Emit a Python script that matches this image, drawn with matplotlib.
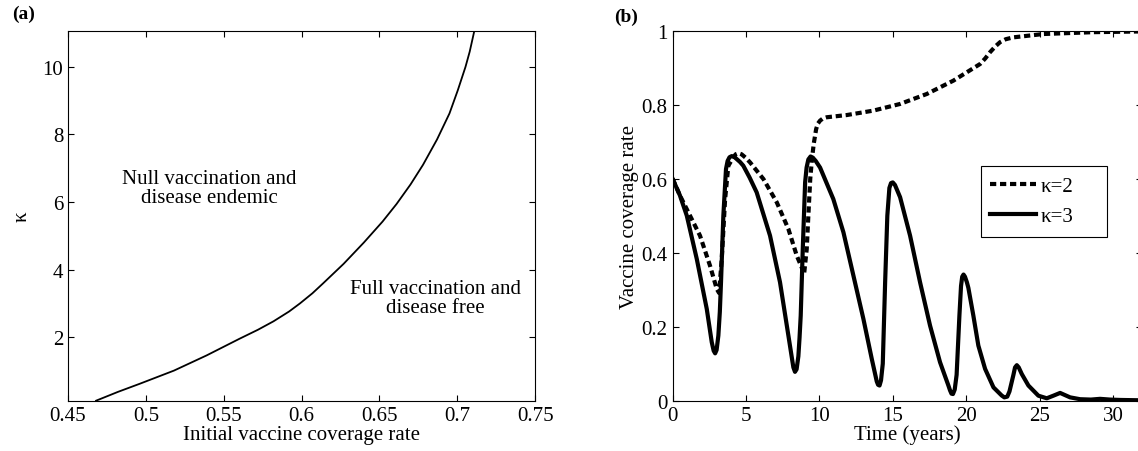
import matplotlib.pyplot as plt
import matplotlib.ticker as mticker
from matplotlib.patches import Rectangle

# ---- panel (a): threshold curve ----
coverage = [0.468, 0.482, 0.496, 0.518, 0.539, 0.560, 0.572, 0.582, 0.592,
            0.599, 0.607, 0.614, 0.627, 0.640, 0.652, 0.661, 0.670, 0.678,
            0.687, 0.695, 0.7003, 0.7053, 0.708, 0.711]
kappa_curve = [0.12, 0.38, 0.62, 1.01, 1.46, 1.95, 2.22, 2.47, 2.76,
               3.00, 3.30, 3.60, 4.17, 4.80, 5.42, 5.94, 6.52, 7.10,
               7.85, 8.62, 9.30, 10.0, 10.45, 11.07]
a_xticks = [0.45, 0.5, 0.55, 0.6, 0.65, 0.7, 0.75]
a_xticklabels = ['0.45', '0.5', '0.55', '0.6', '0.65', '0.7', '0.75']
a_yticks = [2, 4, 6, 8, 10]

# ---- panel (b): vaccine coverage over time ----
t_k2 = [0, 0.51, 1.19, 1.87, 2.55, 3.01, 3.17, 3.35, 3.58, 3.80, 4.1, 4.3,
        4.48, 4.7, 5.0, 5.28, 6.19, 7.1, 7.89, 8.46, 8.80, 8.96, 9.14, 9.25,
        9.38, 9.50, 9.62, 9.78, 9.9, 10.05, 10.25, 10.5, 11.87, 13.68, 15.5,
        17.32, 19.13, 20.95, 21.3, 21.63, 22.0, 22.31, 22.7, 23.22, 25.26,
        28.66, 32]
v_k2 = [0.60, 0.554, 0.50, 0.446, 0.365, 0.302, 0.291, 0.383, 0.545, 0.635,
        0.655, 0.666, 0.669, 0.666, 0.656, 0.644, 0.599, 0.536, 0.464, 0.392,
        0.36, 0.342, 0.41, 0.50, 0.60, 0.655, 0.695, 0.734, 0.749, 0.757,
        0.763, 0.766, 0.772, 0.784, 0.802, 0.829, 0.865, 0.910, 0.925, 0.942,
        0.958, 0.969, 0.977, 0.982, 0.991, 0.996, 0.998]

t_k3 = [0, 0.5, 0.97, 1.65, 2.33, 2.67, 2.80, 2.90, 3.00, 3.12, 3.22, 3.30,
        3.46, 3.64, 3.75, 3.88, 4.03, 4.20, 4.40, 4.6, 4.82, 5.25, 5.73, 6.64,
        7.32, 7.89, 8.15, 8.23, 8.34, 8.45, 8.57, 8.65, 8.73, 8.87, 9.03, 9.13,
        9.25, 9.40, 9.55, 9.75, 10.05, 10.95, 11.64, 12.32, 13.0, 13.57, 13.91,
        14.0, 14.1, 14.2, 14.32, 14.48, 14.63, 14.77, 14.88, 15.0, 15.15, 15.5,
        16.18, 16.86, 17.54, 18.22, 18.79, 18.9, 19.0, 19.1, 19.22, 19.35,
        19.54, 19.65, 19.73, 19.82, 19.92, 20.05, 20.15, 20.49, 20.83, 21.29,
        21.86, 22.42, 22.6, 22.8, 22.95, 23.1, 23.22, 23.33, 23.45, 23.58,
        23.79, 24.24, 24.92, 25.49, 25.94, 26.4, 27.08, 27.76, 28.5, 29.12,
        29.8, 30.5, 32]
v_k3 = [0.60, 0.555, 0.50, 0.383, 0.248, 0.158, 0.135, 0.128, 0.137, 0.176,
        0.24, 0.32, 0.50, 0.626, 0.648, 0.658, 0.661, 0.659, 0.652, 0.645,
        0.635, 0.603, 0.563, 0.446, 0.32, 0.176, 0.11, 0.09, 0.078, 0.085,
        0.12, 0.17, 0.23, 0.41, 0.59, 0.63, 0.652, 0.660, 0.657, 0.648, 0.63,
        0.545, 0.455, 0.338, 0.221, 0.113, 0.052, 0.043, 0.041, 0.055, 0.10,
        0.32, 0.50, 0.575, 0.588, 0.590, 0.583, 0.55, 0.446, 0.32, 0.203,
        0.104, 0.041, 0.028, 0.019, 0.018, 0.03, 0.07, 0.23, 0.31, 0.335,
        0.341, 0.335, 0.32, 0.305, 0.23, 0.149, 0.086, 0.036, 0.014, 0.009,
        0.011, 0.025, 0.05, 0.07, 0.09, 0.096, 0.09, 0.072, 0.041, 0.0135,
        0.0065, 0.0135, 0.021, 0.009, 0.004, 0.003, 0.005, 0.003, 0.002, 0.001]
b_xticks = [0, 5, 10, 15, 20, 25, 30]
b_yticks = [0, 0.2, 0.4, 0.6, 0.8, 1]
b_yticklabels = ['0', '0.2', '0.4', '0.6', '0.8', '1']

plt.rcParams['font.family'] = ['Liberation Serif', 'DejaVu Serif']
plt.rcParams['font.size'] = 15
plt.rcParams['xtick.direction'] = 'in'
plt.rcParams['ytick.direction'] = 'in'
plt.rcParams['xtick.top'] = True
plt.rcParams['ytick.right'] = True
plt.rcParams['xtick.major.size'] = 4
plt.rcParams['ytick.major.size'] = 4
plt.rcParams['axes.linewidth'] = 0.8

fig = plt.figure(figsize=(11.38, 4.52), dpi=100)

# 左图
ax1 = fig.add_axes([0.0598, 0.1113, 0.4104, 0.8186])
ax1.plot(coverage, kappa_curve, color='black', lw=1.3)
ax1.set_xlim(0.45, 0.75)
ax1.set_ylim(0.12, 11.07)
ax1.set_xticks(a_xticks)
ax1.xaxis.set_major_formatter(mticker.FixedFormatter(a_xticklabels))
ax1.set_yticks(a_yticks)
ax1.set_xlabel('Initial vaccine coverage rate', labelpad=0)
ax1.set_ylabel('\u03ba', labelpad=8)
ax1.text(0.541, 6.40, 'Null vaccination and\ndisease endemic',
         ha='center', va='center', linespacing=1.0)
ax1.text(0.686, 3.17, 'Full vaccination and\ndisease free',
         ha='center', va='center', linespacing=1.0)
fig.text(0.011, 0.968, '(a)', fontweight='bold', fontsize=14, va='center')

# 右图 (right spine sits just past the figure edge, as in the source)
ax2 = fig.add_axes([0.5910, 0.1113, 0.4128, 0.8186])
ax2.plot(t_k2, v_k2, color='black', lw=3, dashes=(1.5, 0.9), label='\u03ba=2')
ax2.plot(t_k3, v_k3, color='black', lw=3, label='\u03ba=3')
ax2.set_xlim(0, 32)
ax2.set_ylim(0, 1)
ax2.set_xticks(b_xticks)
ax2.set_yticks(b_yticks)
ax2.yaxis.set_major_formatter(mticker.FixedFormatter(b_yticklabels))
ax2.set_xlabel('Time (years)', labelpad=0)
ax2.set_ylabel('Vaccine coverage rate', labelpad=2)
# legend box is wider than its content, like the MATLAB one
ax2.add_patch(Rectangle((0.657, 0.442), 0.268, 0.192, transform=ax2.transAxes,
                        facecolor='white', edgecolor='black', lw=0.8, zorder=4))
leg = ax2.legend(loc='center left', bbox_to_anchor=(0.657, 0.538),
                 borderaxespad=0, frameon=False, handlelength=2.2,
                 labelspacing=0.5, handletextpad=0.2, borderpad=0.43)
leg.set_zorder(5)
fig.text(0.540, 0.962, '(b)', fontweight='bold', fontsize=14, va='center')

fig.savefig('out.png', dpi=100)
